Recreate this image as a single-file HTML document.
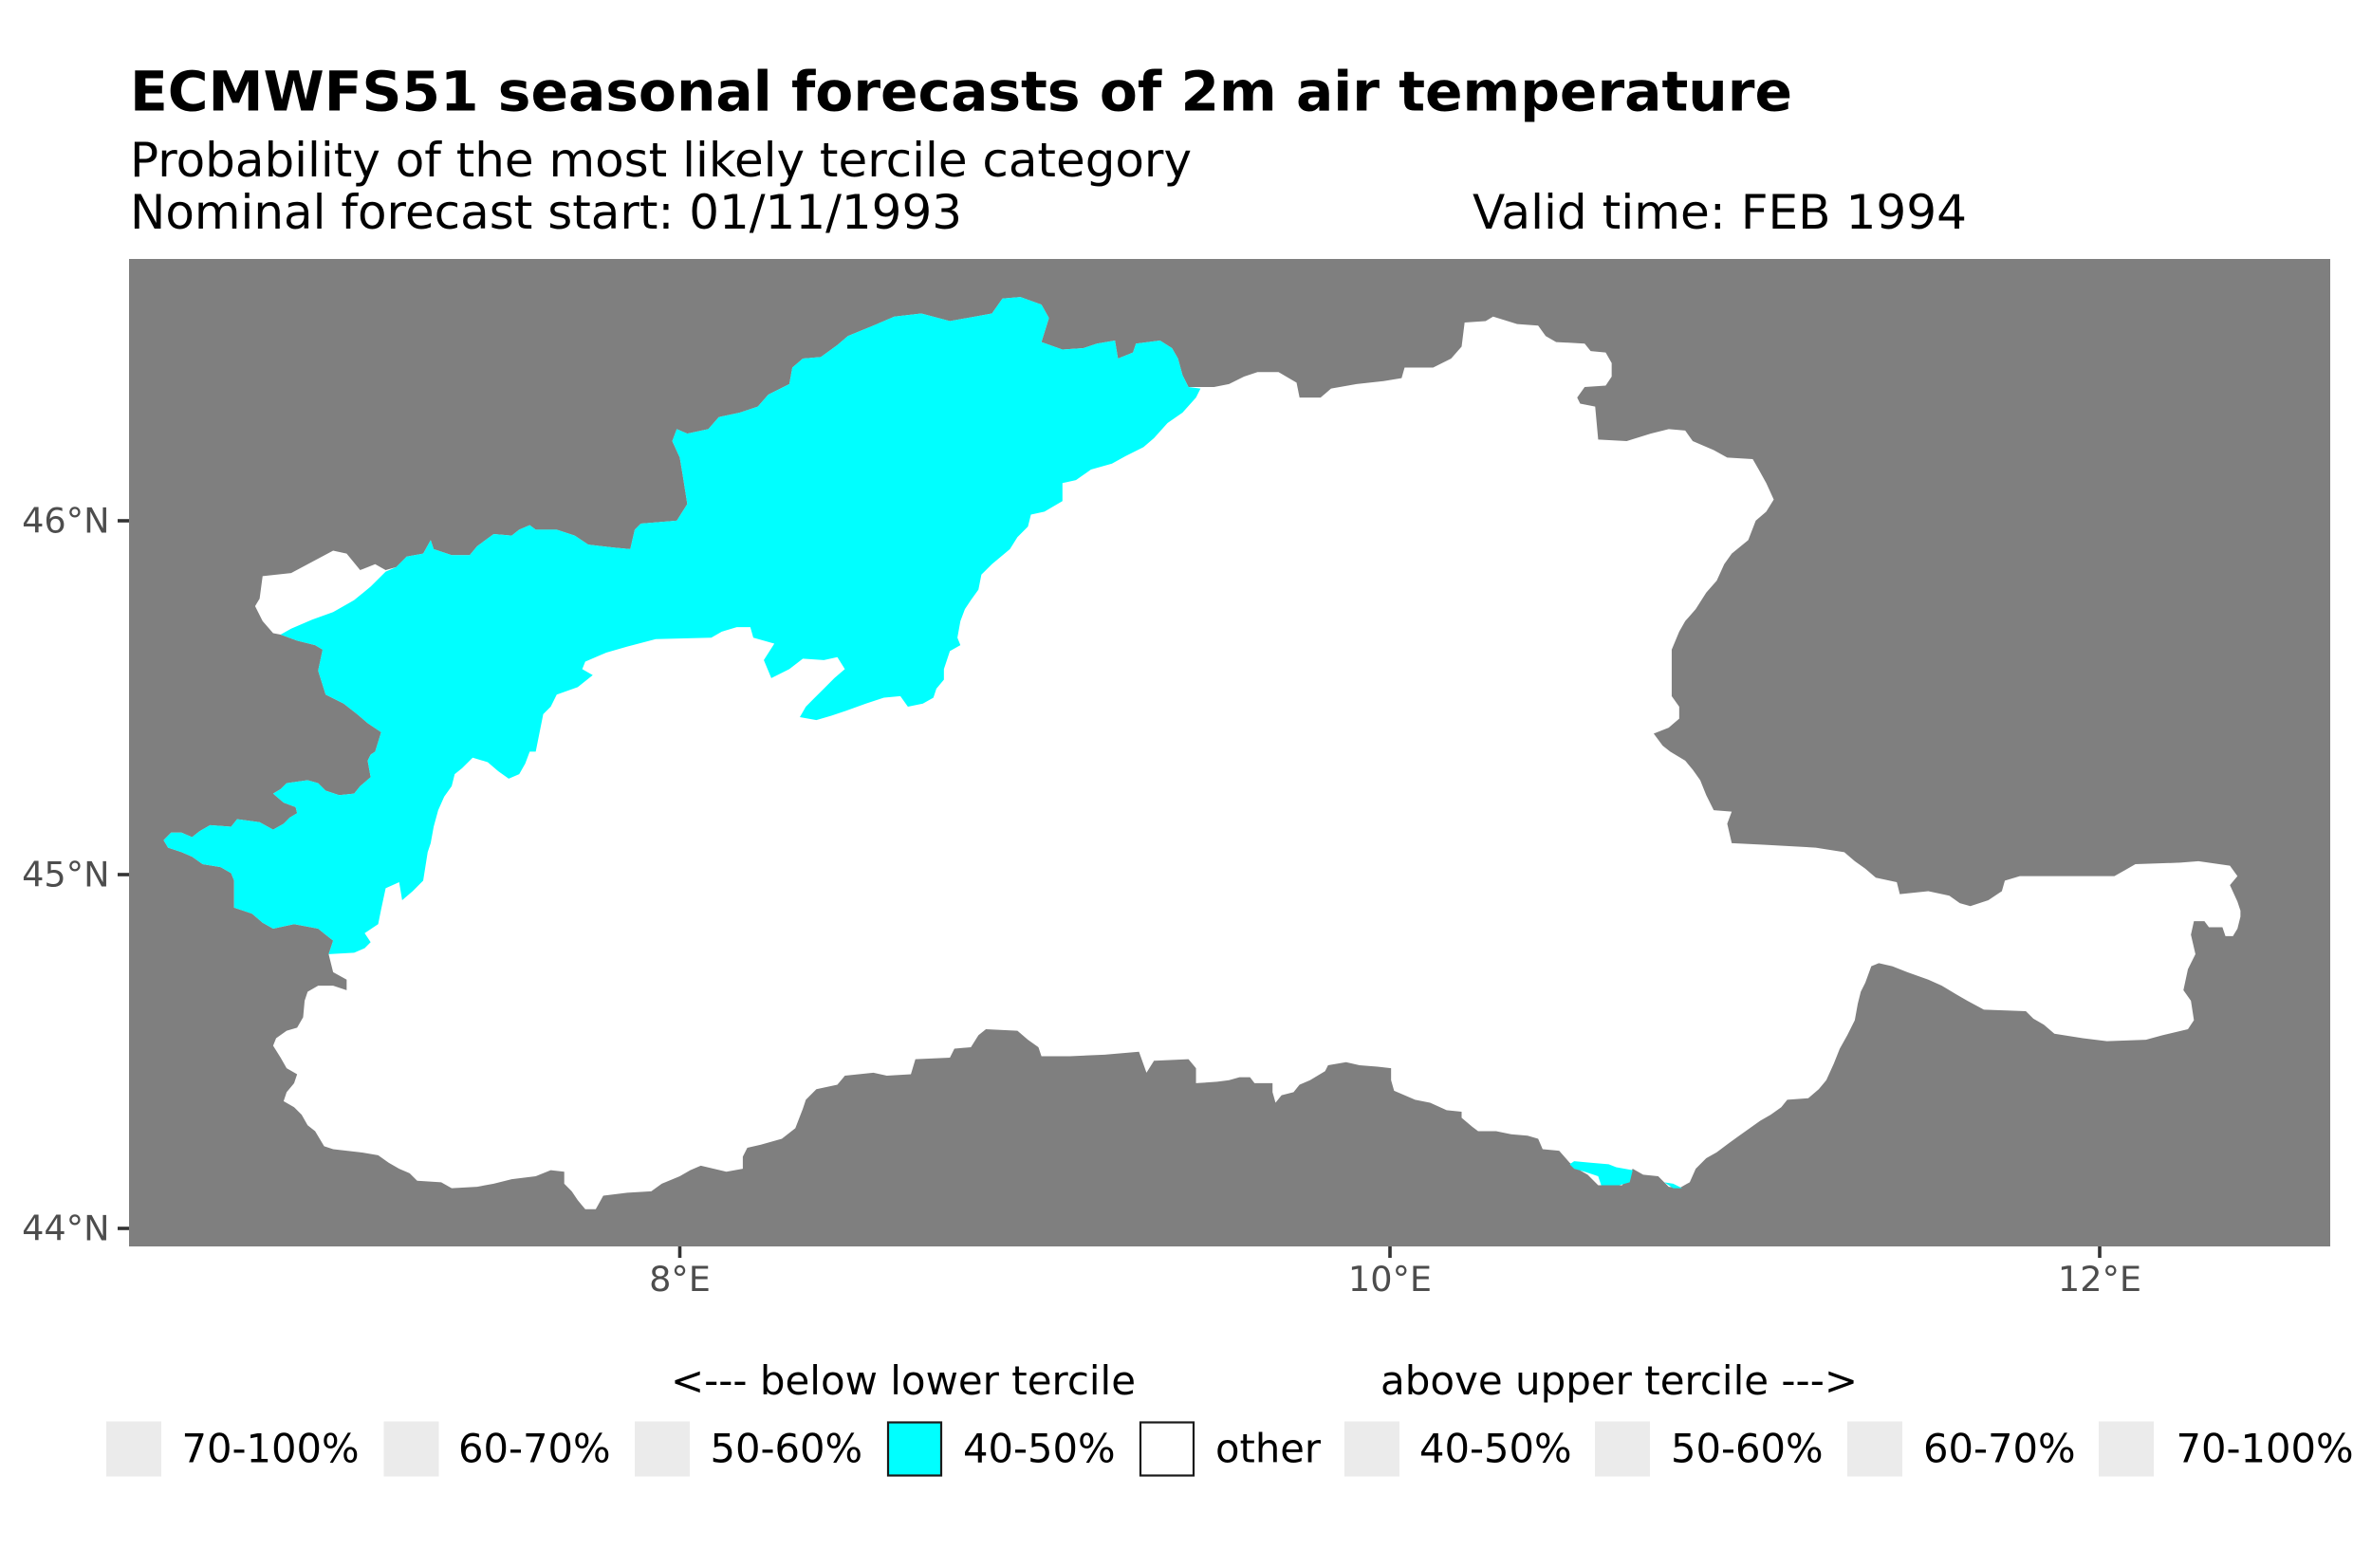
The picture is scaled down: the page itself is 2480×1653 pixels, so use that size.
<!DOCTYPE html>
<html>
<head>
<meta charset="utf-8">
<style>
html,body{margin:0;padding:0;background:#ffffff;}
svg{display:block;}
text{font-family:"DejaVu Sans","Liberation Sans",sans-serif;}
</style>
</head>
<body>
<svg width="2480" height="1653" viewBox="0 0 2480 1653" xmlns="http://www.w3.org/2000/svg">
<rect x="0" y="0" width="2480" height="1653" fill="#ffffff"/>

<!-- Titles -->
<text x="137" y="116.7" font-size="58.33" font-weight="bold" fill="#000" textLength="1752" lengthAdjust="spacingAndGlyphs">ECMWFS51 seasonal forecasts of 2m air temperature</text>
<text x="137" y="186" font-size="50" fill="#000" textLength="1119" lengthAdjust="spacingAndGlyphs">Probability of the most likely tercile category</text>
<text x="137" y="241" font-size="50" fill="#000" textLength="877" lengthAdjust="spacingAndGlyphs">Nominal forecast start: 01/11/1993</text>
<text x="1552" y="241" font-size="50" fill="#000" textLength="521" lengthAdjust="spacingAndGlyphs">Valid time: FEB 1994</text>

<!-- Panel -->
<rect x="136" y="273" width="2320" height="1041" fill="#7f7f7f"/>

<g transform="scale(1.58163)">
<polygon fill="#ffffff" points="109,560 114,555 121,555 128,558 133,554 140,550 154,551 158,546 173,548 182,553 189,549 193,545 198,542 197,538 189,535 182,529 187,526 191,522 205,520 212,522 217,527 226,530 236,529 240,524 247,518 245,507 247,503 250,501 254,488 245,482 238,476 229,469 217,463 212,447 215,433 210,430 198,427 187,423 182,422 175,414 170,404 173,399 175,384 194,382 222,367 231,369 240,380 250,376 257,380 264,378 271,371 282,369 287,360 289,366 301,370 313,370 318,364 329,356 341,357 346,353 353,350 357,353 371,353 383,357 392,363 409,365 420,366 423,353 427,349 451,347 458,336 455,317 453,305 448,294 451,286 458,289 472,286 479,278 493,275 505,271 512,263 526,256 528,245 535,239 547,238 558,230 565,224 582,217 596,211 614,209 633,214 661,209 668,199 680,198 694,203 699,212 694,228 708,233 722,232 731,229 743,227 745,239 755,235 757,229 773,227 781,232 785,239 788,250 792,258 809,258 819,256 829,251 838,248 852,248 864,255 866,265 880,265 887,259 904,256 922,254 934,252 936,245 955,245 967,239 974,231 976,215 990,214 995,211 1011,216 1025,217 1030,224 1037,228 1056,229 1060,234 1070,235 1074,242 1074,251 1070,257 1056,258 1051,265 1053,269 1063,271 1065,293 1084,294 1100,289 1112,286 1123,287 1128,294 1142,300 1151,305 1168,306 1172,313 1177,322 1182,333 1177,341 1170,347 1165,360 1154,369 1149,376 1144,387 1137,395 1130,406 1123,414 1119,421 1114,433 1114,452 1114,464 1119,471 1119,479 1112,485 1102,489 1108,497 1113,501 1123,507 1128,513 1133,520 1137,530 1142,540 1154,541 1151,549 1154,562 1175,563 1210,565 1229,568 1236,574 1243,579 1250,585 1264,588 1266,596 1285,594 1299,597 1306,602 1313,604 1325,600 1334,594 1336,587 1346,584 1409,584 1416,580 1423,576 1453,575 1465,574 1486,577 1491,584 1486,590 1491,601 1493,607 1493,611 1491,619 1488,624 1483,624 1481,618 1472,618 1469,614 1462,614 1460,623 1463,636 1458,646 1455,660 1460,667 1462,680 1458,686 1441,690 1430,693 1404,694 1388,692 1369,689 1362,683 1355,679 1350,674 1322,673 1311,667 1304,663 1294,657 1285,653 1271,648 1261,644 1252,642 1247,644 1243,655 1240,661 1238,669 1236,680 1231,690 1226,699 1222,709 1217,720 1212,726 1205,732 1191,733 1187,738 1180,743 1173,747 1166,752 1159,757 1152,762 1144,768 1137,772 1130,779 1126,788 1119,792 1112,791 1105,784 1095,783 1088,779 1081,790 1065,790 1058,783 1051,779 1046,775 1039,767 1028,766 1025,759 1018,757 1007,756 997,754 985,754 981,751 974,745 974,741 964,740 953,735 943,733 936,730 929,727 927,720 927,712 918,711 906,710 897,708 885,710 883,714 878,717 873,720 866,723 862,728 854,730 850,735 848,728 848,722 836,722 833,718 826,718 819,720 811,721 797,722 797,712 792,706 769,707 764,715 759,701 736,703 713,704 694,704 692,698 685,693 678,687 657,686 652,690 647,698 636,699 633,705 610,706 607,716 591,717 582,715 563,717 558,723 544,726 537,733 535,739 530,752 521,759 507,763 498,765 495,771 495,779 484,781 467,777 460,780 453,784 441,789 434,794 418,795 402,797 397,806 390,806 385,800 381,794 376,789 376,781 367,780 357,784 341,786 329,789 318,791 301,792 294,788 278,787 273,782 266,779 259,775 252,770 240,768 222,766 216,764 210,754 205,750 201,743 196,738 189,734 191,728 196,722 198,716 191,712 187,705 182,697 184,692 191,687 198,685 202,678 203,667 205,661 212,657 222,657 231,660 231,653 222,648 219,636 222,627 217,623 212,619 196,616 182,619 175,615 168,609 156,605 156,594 156,587 154,582 147,578 135,576 128,571 121,568 112,565"/>
<polygon fill="#00ffff" points="219,636 222,627 217,623 212,619 196,616 182,619 175,615 168,609 156,605 156,587 154,582 147,578 135,576 128,571 121,568 112,565 109,560 114,555 121,555 128,558 133,554 140,550 154,551 158,546 173,548 182,553 189,549 193,545 198,542 197,538 189,535 182,529 187,526 191,522 205,520 212,522 217,527 226,530 236,529 240,524 247,518 245,507 247,503 250,501 254,488 245,482 238,476 229,469 217,463 212,447 215,433 210,430 198,427 187,423 194,419 208,413 222,408 236,400 247,391 257,381 264,378 271,371 282,369 287,360 289,366 301,370 313,370 318,364 329,356 341,357 346,353 353,350 357,353 371,353 383,357 392,363 409,365 420,366 423,353 427,349 451,347 458,336 455,317 453,305 448,294 451,286 458,289 472,286 479,278 493,275 505,271 512,263 526,256 528,245 535,239 547,238 558,230 565,224 582,217 596,211 614,209 633,214 661,209 668,199 680,198 694,203 699,212 694,228 708,233 722,232 731,229 743,227 745,239 755,235 757,229 773,227 781,232 785,239 788,250 792,258 800,259 797,265 788,275 778,282 769,292 762,298 750,304 741,309 727,313 717,320 708,322 708,334 696,341 687,343 685,351 678,358 673,366 661,376 654,383 652,393 647,400 643,406 640,414 638,425 640,430 633,434 631,440 629,446 629,453 624,459 622,465 615,469 605,471 600,464 589,465 577,469 563,474 554,477 544,480 533,478 537,471 542,466 549,459 556,452 563,446 558,438 549,440 535,439 526,446 514,452 509,440 516,429 502,425 500,418 491,418 481,421 474,425 437,426 418,431 404,435 390,441 388,446 395,450 385,458 371,463 367,471 362,476 360,486 357,501 353,501 350,509 346,516 339,519 332,514 325,508 315,505 308,512 303,516 301,524 296,531 292,540 289,551 287,562 285,568 282,587 275,594 268,600 266,588 257,592 254,606 252,616 243,622 247,628 243,632 236,635"/>
<polygon fill="#ffffff" points="390,443 405,438 423,437 423,442 405,444 395,447"/>
<polygon fill="#00ffff" points="1049,774 1060,775 1072,776 1077,778 1088,780 1086,788 1079,790 1067,790 1065,784 1056,781 1049,779 1046,776"/>
<polygon fill="#00ffff" points="1109,788 1115,789 1121,792 1115,792"/>
</g>

<!-- Y axis ticks & labels -->
<g stroke="#333333" stroke-width="3.6">
<line x1="124" y1="549" x2="136" y2="549"/>
<line x1="124" y1="922" x2="136" y2="922"/>
<line x1="124" y1="1295" x2="136" y2="1295"/>
<line x1="716.5" y1="1314" x2="716.5" y2="1326"/>
<line x1="1465" y1="1314" x2="1465" y2="1326"/>
<line x1="2213" y1="1314" x2="2213" y2="1326"/>
</g>
<g font-size="36.67" fill="#4d4d4d">
<text x="115.5" y="561.7" text-anchor="end">46°N</text>
<text x="115.5" y="934.7" text-anchor="end">45°N</text>
<text x="115.5" y="1307.7" text-anchor="end">44°N</text>
<text x="716.5" y="1361" text-anchor="middle">8°E</text>
<text x="1465" y="1361" text-anchor="middle">10°E</text>
<text x="2213" y="1361" text-anchor="middle">12°E</text>
</g>

<!-- Legend -->
<g font-size="41.67" fill="#000">
<text x="707" y="1470" textLength="490" lengthAdjust="spacingAndGlyphs">&lt;--- below lower tercile</text>
<text x="1455" y="1470" textLength="503" lengthAdjust="spacingAndGlyphs">above upper tercile ---&gt;</text>
</g>

<g>
<rect x="112" y="1498.5" width="58" height="58" fill="#ebebeb"/>
<rect x="404.5" y="1498.5" width="58" height="58" fill="#ebebeb"/>
<rect x="669" y="1498.5" width="58" height="58" fill="#ebebeb"/>
<rect x="936" y="1499.5" width="56" height="56" fill="#00ffff" stroke="#1a1a1a" stroke-width="2.2"/>
<rect x="1202" y="1499.5" width="56" height="56" fill="#ffffff" stroke="#1a1a1a" stroke-width="2.2"/>
<rect x="1417" y="1498.5" width="58" height="58" fill="#ebebeb"/>
<rect x="1681" y="1498.5" width="58" height="58" fill="#ebebeb"/>
<rect x="1947" y="1498.5" width="58" height="58" fill="#ebebeb"/>
<rect x="2212" y="1498.5" width="58" height="58" fill="#ebebeb"/>
</g>
<g font-size="41.67" fill="#000">
<text x="191.5" y="1541.5">70-100%</text>
<text x="483" y="1541.5">60-70%</text>
<text x="748.5" y="1541.5">50-60%</text>
<text x="1015" y="1541.5">40-50%</text>
<text x="1281" y="1541.5">other</text>
<text x="1496" y="1541.5">40-50%</text>
<text x="1761" y="1541.5">50-60%</text>
<text x="2027" y="1541.5">60-70%</text>
<text x="2293.5" y="1541.5">70-100%</text>
</g>
</svg>
</body>
</html>
